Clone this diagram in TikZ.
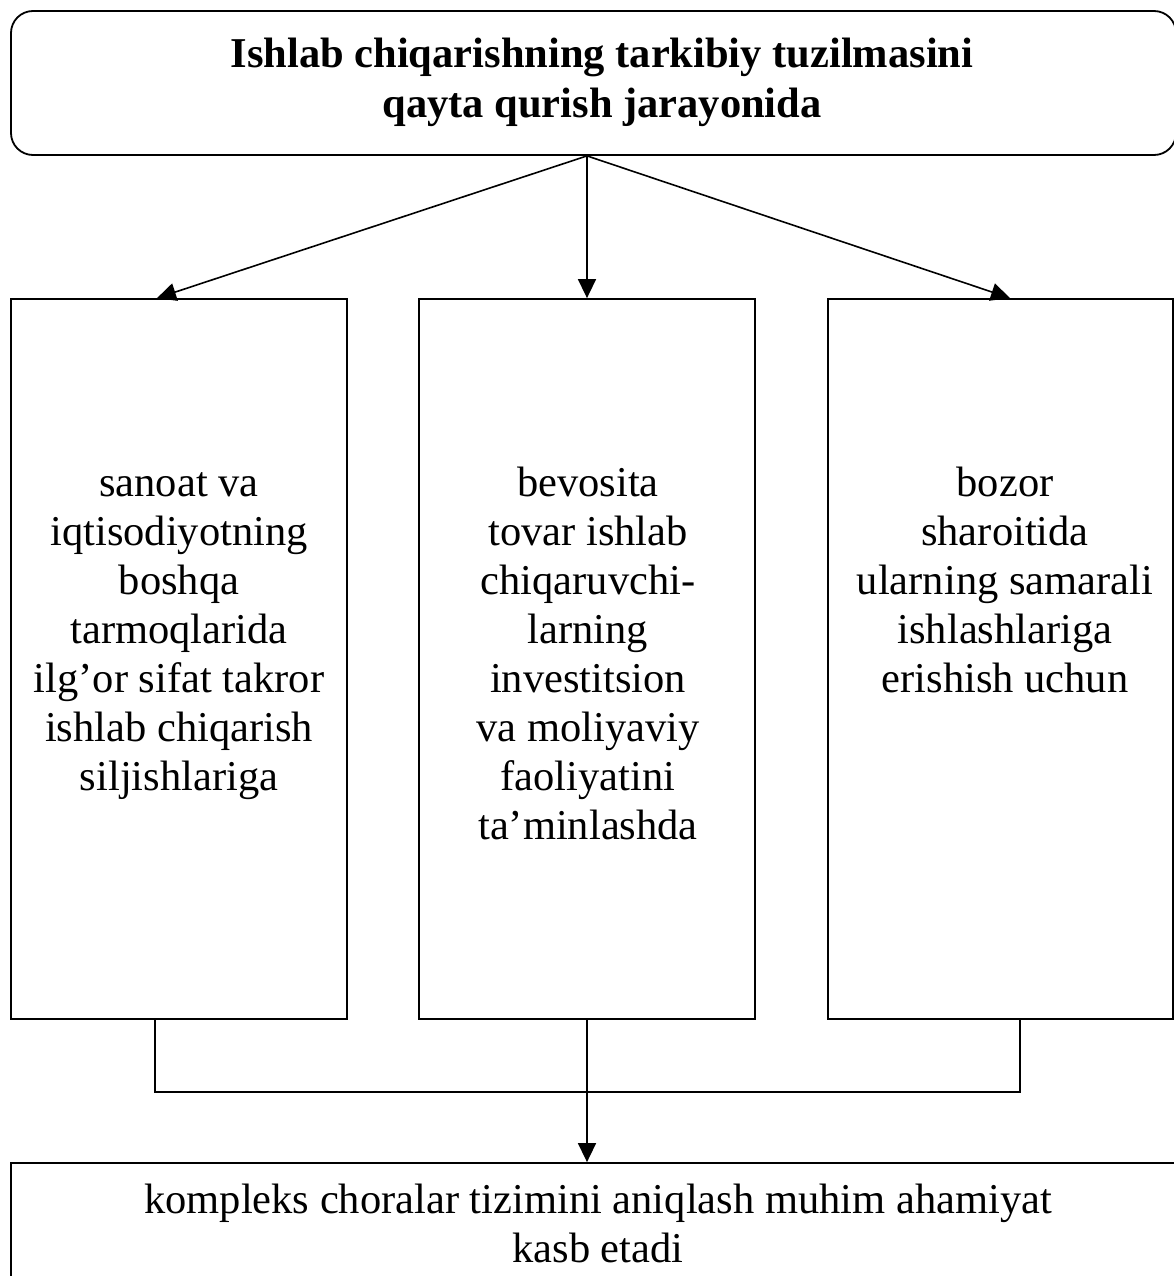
\documentclass[tikz,border=0pt]{standalone}
\usepackage{fontspec}
\setmainfont{Liberation Serif}
\usetikzlibrary{arrows.meta}
\begin{document}
\begin{tikzpicture}[x=1pt,y=-1pt,
  line width=1.8pt,
  box/.style={draw, line width=1.8pt, inner sep=0pt},
  txt/.style={anchor=base, inner sep=0pt, font=\fontsize{42.5}{49}\selectfont},
  arr/.style={line width=1.6pt, -{Triangle[length=19pt,width=18pt]}}]
\useasboundingbox (0,0) rectangle (1174,1276);
% boxes
\node[box, rounded corners=22pt, minimum width=1165pt, minimum height=144pt] (top) at (593.5,83) {};
\node[box, minimum width=336pt, minimum height=720pt] (L) at (179,659) {};
\node[box, minimum width=336pt, minimum height=720pt] (M) at (587,659) {};
\node[box, minimum width=345pt, minimum height=720pt] (R) at (1000.5,659) {};
\node[box, minimum width=1180pt, minimum height=130pt] (B) at (601,1228) {};
\coordinate (apex) at (top.south -| M.north);
% texts
\node[txt, font=\fontsize{42.5}{50}\selectfont\bfseries] (ttl) at (602,68)
  {\begin{tabular}[t]{@{}c@{}}Ishlab chiqarishning tarkibiy tuzilmasini\\ qayta qurish jarayonida\end{tabular}};
\node[txt] (tl) at (179,496)
  {\begin{tabular}[t]{@{}c@{}}sanoat va\\ iqtisodiyotning\\ boshqa\\ tarmoqlarida\\ ilg’or sifat takror\\ ishlab chiqarish\\ siljishlariga\end{tabular}};
\node[txt] (tm) at (588,496)
  {\begin{tabular}[t]{@{}c@{}}bevosita\\ tovar ishlab\\ chiqaruvchi-\\ larning\\ investitsion\\ va moliyaviy\\ faoliyatini\\ ta’minlashda\end{tabular}};
\node[txt] (tr) at (1005,496)
  {\begin{tabular}[t]{@{}c@{}}bozor\\ sharoitida\\ ularning samarali\\ ishlashlariga\\ erishish uchun\end{tabular}};
\node[txt] (tb) at (598,1213)
  {\begin{tabular}[t]{@{}c@{}}kompleks choralar tizimini aniqlash muhim ahamiyat\\ kasb etadi\end{tabular}};
% connectors
\draw[arr] (apex) -- ([xshift=-22pt]L.north);
\draw[arr] (apex) -- (M.north);
\draw[arr] (apex) -- ([xshift=9.5pt]R.north);
\draw ([xshift=-24pt]L.south) -- ++(0,72) -| ([xshift=19.5pt]R.south);
\draw[arr] (M.south) -- (B.north -| M.south);
\end{tikzpicture}
\end{document}
